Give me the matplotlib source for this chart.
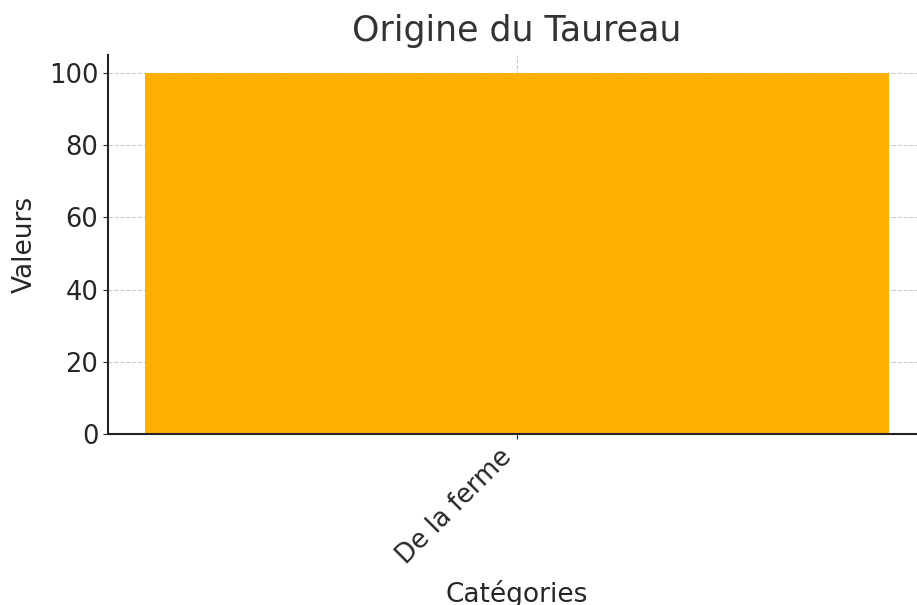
import matplotlib.pyplot as plt

categories = ['De la ferme']
values = [100]

plt.rcParams['font.family'] = 'DejaVu Sans'
text_color = '#262626'

fig = plt.figure(figsize=(9.17, 6.05), dpi=100)
ax = fig.add_axes([108 / 917, 171 / 605, 818 / 917, 379 / 605])

ax.bar(categories, values, color='#FFB000', width=0.8, zorder=2)
ax.set_ylim(0, 105)
ax.set_yticks([0, 20, 40, 60, 80, 100])

ax.set_title('Origine du Taureau', fontsize=25, color='#333333', pad=10)
ax.set_xlabel('Catégories', fontsize=19, color=text_color, labelpad=8)
ax.set_ylabel('Valeurs', fontsize=19, color=text_color, labelpad=8)
ax.tick_params(labelsize=18.5, colors=text_color)
plt.setp(ax.get_xticklabels(), rotation=45, ha='right')

ax.grid(True, linestyle='--', color='#cccccc', linewidth=0.8, zorder=0)
ax.spines['top'].set_visible(False)
ax.spines['right'].set_visible(False)
for s in ('left', 'bottom'):
    ax.spines[s].set_color('#222222')
    ax.spines[s].set_linewidth(1.5)

fig.savefig('out.png', dpi=100)
